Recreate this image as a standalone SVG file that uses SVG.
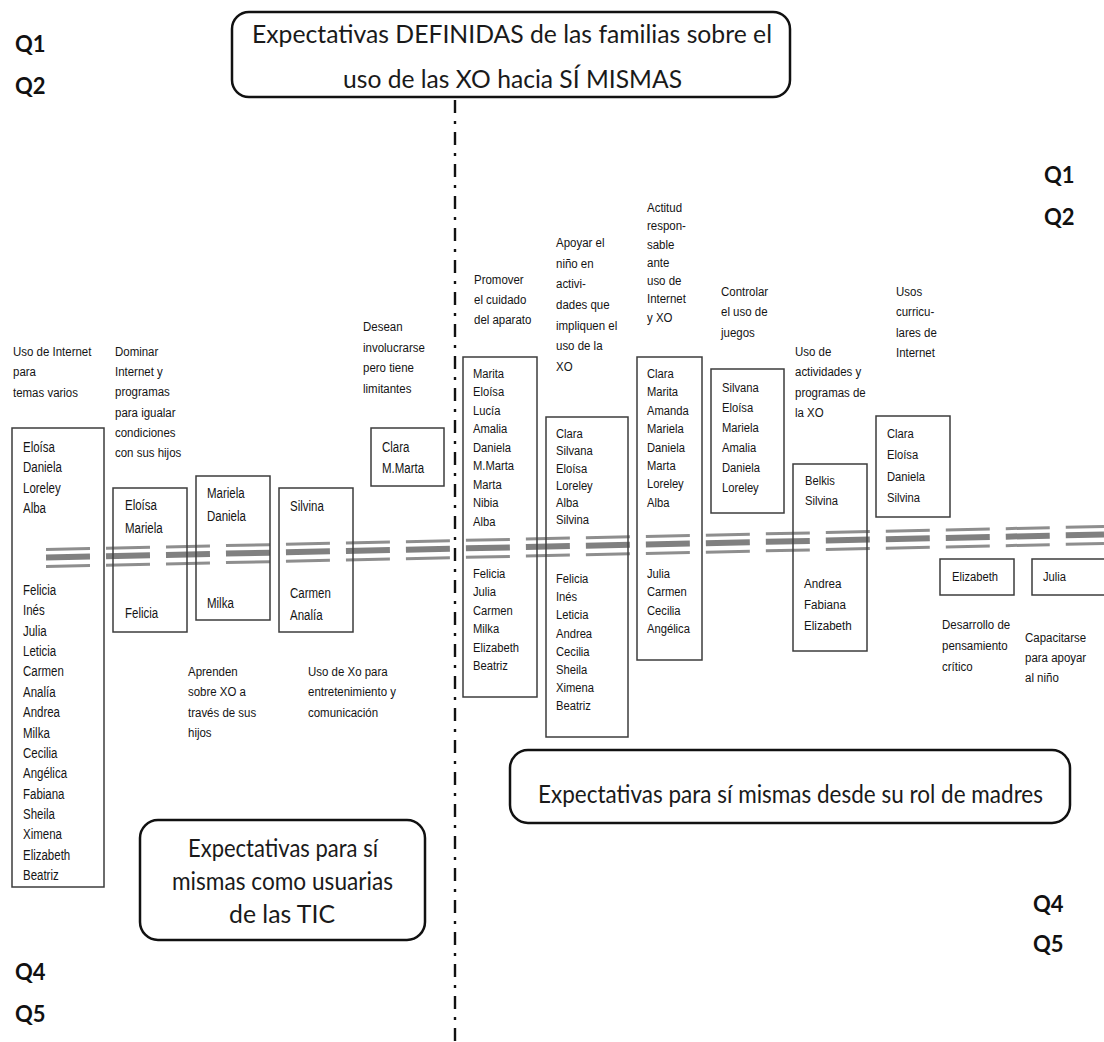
<svg xmlns="http://www.w3.org/2000/svg" width="1104" height="1042" viewBox="0 0 1104 1042">
  <style>
    .box { fill: none; stroke: #3c3c3c; stroke-width: 1.5; }
    .rbox { fill: #fff; stroke: #111; stroke-width: 2.5; }
    .nm { font-family: "Liberation Sans", Arial, sans-serif; font-size: 14px; fill: #141414; }
    .nmr { font-family: "Liberation Sans", Arial, sans-serif; font-size: 13.5px; fill: #141414; }
    .lbl { font-family: "Liberation Sans", Arial, sans-serif; font-size: 13.5px; fill: #141414; }
    .big { font-family: Lato, "Open Sans", sans-serif; font-size: 25px; fill: #1a1a1a; }
    .q { font-family: Lato, "Open Sans", sans-serif; font-size: 22px; font-weight: bold; fill: #111; }
    .dash { fill: none; stroke-dasharray: 44 16; }
  </style>

  <rect width="1104" height="1042" fill="#fff"/>

  <!-- quadrant markers -->
  <g id="quadrants">
    <text class="q" x="15" y="52">Q1</text>
    <text class="q" x="15" y="94">Q2</text>
    <text class="q" x="1044" y="183">Q1</text>
    <text class="q" x="1044" y="225">Q2</text>
    <text class="q" x="1033" y="912">Q4</text>
    <text class="q" x="1033" y="952">Q5</text>
    <text class="q" x="15" y="980">Q4</text>
    <text class="q" x="15" y="1022">Q5</text>
  </g>

  <!-- dividers -->
  <g id="connectors">
    <line x1="455" y1="100" x2="455" y2="1042" stroke="#111" stroke-width="2.4" stroke-dasharray="13 8 3 8"/>
    <g class="dash">
      <line x1="46" y1="549.5" x2="1104" y2="526.5" stroke="#8e8e8e" stroke-width="3"/>
      <line x1="46" y1="557.5" x2="1104" y2="534.5" stroke="#808080" stroke-width="6"/>
      <line x1="46" y1="566.5" x2="1104" y2="543.5" stroke="#8e8e8e" stroke-width="3"/>
    </g>
  </g>

  <!-- title -->
  <g id="title">
    <rect class="rbox" x="232" y="12" width="558" height="85" rx="17"/>
    <text class="big" x="252" y="43" textLength="520" lengthAdjust="spacingAndGlyphs">Expectativas DEFINIDAS de las familias sobre el</text>
    <text class="big" x="343" y="88" textLength="339" lengthAdjust="spacingAndGlyphs">uso de las XO hacia SÍ MISMAS</text>
  </g>

  <!-- left half: as ICT users -->
  <g id="box-internet-varios">
    <rect class="box" x="12" y="428" width="92" height="459"/>
    <text class="nm" transform="translate(23,0) scale(0.82,1)"><tspan x="0" y="452">Eloísa</tspan><tspan x="0" dy="20.3">Daniela</tspan><tspan x="0" dy="20.3">Loreley</tspan><tspan x="0" dy="20.3">Alba</tspan></text>
    <text class="nm" transform="translate(23,0) scale(0.82,1)"><tspan x="0" y="595">Felicia</tspan><tspan x="0" dy="20.36">Inés</tspan><tspan x="0" dy="20.36">Julia</tspan><tspan x="0" dy="20.36">Leticia</tspan><tspan x="0" dy="20.36">Carmen</tspan><tspan x="0" dy="20.36">Analía</tspan><tspan x="0" dy="20.36">Andrea</tspan><tspan x="0" dy="20.36">Milka</tspan><tspan x="0" dy="20.36">Cecilia</tspan><tspan x="0" dy="20.36">Angélica</tspan><tspan x="0" dy="20.36">Fabiana</tspan><tspan x="0" dy="20.36">Sheila</tspan><tspan x="0" dy="20.36">Ximena</tspan><tspan x="0" dy="20.36">Elizabeth</tspan><tspan x="0" dy="20.36">Beatriz</tspan></text>
    <text class="lbl" transform="translate(13,0) scale(0.85,1)"><tspan x="0" y="356">Uso de Internet</tspan><tspan x="0" dy="20.3">para</tspan><tspan x="0" dy="20.3">temas varios</tspan></text>
  </g>

  <g id="box-dominar">
    <rect class="box" x="113" y="488" width="74" height="144"/>
    <text class="nm" transform="translate(125,0) scale(0.82,1)"><tspan x="0" y="510">Eloísa</tspan><tspan x="0" dy="23">Mariela</tspan><tspan x="0" y="618">Felicia</tspan></text>
    <text class="lbl" transform="translate(115,0) scale(0.85,1)"><tspan x="0" y="356">Dominar</tspan><tspan x="0" dy="20.2">Internet y</tspan><tspan x="0" dy="20.2">programas</tspan><tspan x="0" dy="20.2">para igualar</tspan><tspan x="0" dy="20.2">condiciones</tspan><tspan x="0" dy="20.2">con sus hijos</tspan></text>
  </g>

  <g id="box-aprenden">
    <rect class="box" x="196" y="476" width="74" height="144"/>
    <text class="nm" transform="translate(207,0) scale(0.82,1)"><tspan x="0" y="498">Mariela</tspan><tspan x="0" dy="23">Daniela</tspan><tspan x="0" y="608">Milka</tspan></text>
    <text class="lbl" transform="translate(188,0) scale(0.85,1)"><tspan x="0" y="676">Aprenden</tspan><tspan x="0" dy="20.4">sobre XO a</tspan><tspan x="0" dy="20.4">través de sus</tspan><tspan x="0" dy="20.4">hijos</tspan></text>
  </g>

  <g id="box-entretenimiento">
    <rect class="box" x="279" y="488" width="74" height="144"/>
    <text class="nm" transform="translate(290,0) scale(0.82,1)"><tspan x="0" y="511">Silvina</tspan><tspan x="0" y="598">Carmen</tspan><tspan x="0" dy="22">Analía</tspan></text>
    <text class="lbl" transform="translate(308,0) scale(0.85,1)"><tspan x="0" y="676">Uso de Xo para</tspan><tspan x="0" dy="20.4">entretenimiento y</tspan><tspan x="0" dy="20.4">comunicación</tspan></text>
  </g>

  <g id="box-limitantes">
    <rect class="box" x="371" y="428" width="73" height="58"/>
    <text class="nm" transform="translate(382,0) scale(0.82,1)"><tspan x="0" y="452">Clara</tspan><tspan x="0" dy="21">M.Marta</tspan></text>
    <text class="lbl" transform="translate(363,0) scale(0.85,1)"><tspan x="0" y="331">Desean</tspan><tspan x="0" dy="20.7">involucrarse</tspan><tspan x="0" dy="20.7">pero tiene</tspan><tspan x="0" dy="20.7">limitantes</tspan></text>
  </g>

  <g id="group-usuarias">
    <rect class="rbox" x="140" y="820" width="285" height="120" rx="18"/>
    <text class="big" x="188" y="857" textLength="190" lengthAdjust="spacingAndGlyphs">Expectativas para sí</text>
    <text class="big" x="172" y="890" textLength="221" lengthAdjust="spacingAndGlyphs">mismas como usuarias</text>
    <text class="big" x="229" y="923" textLength="106" lengthAdjust="spacingAndGlyphs">de las TIC</text>
  </g>

  <!-- right half: as mothers -->
  <g id="box-cuidado">
    <rect class="box" x="463" y="357" width="74" height="340"/>
    <text class="nmr" transform="translate(473,0) scale(0.83,1)"><tspan x="0" y="378">Marita</tspan><tspan x="0" dy="18.5">Eloísa</tspan><tspan x="0" dy="18.5">Lucía</tspan><tspan x="0" dy="18.5">Amalia</tspan><tspan x="0" dy="18.5">Daniela</tspan><tspan x="0" dy="18.5">M.Marta</tspan><tspan x="0" dy="18.5">Marta</tspan><tspan x="0" dy="18.5">Nibia</tspan><tspan x="0" dy="18.5">Alba</tspan></text>
    <text class="nmr" transform="translate(473,0) scale(0.83,1)"><tspan x="0" y="578">Felicia</tspan><tspan x="0" dy="18.4">Julia</tspan><tspan x="0" dy="18.4">Carmen</tspan><tspan x="0" dy="18.4">Milka</tspan><tspan x="0" dy="18.4">Elizabeth</tspan><tspan x="0" dy="18.4">Beatriz</tspan></text>
    <text class="lbl" transform="translate(474,0) scale(0.85,1)"><tspan x="0" y="284">Promover</tspan><tspan x="0" dy="20">el cuidado</tspan><tspan x="0" dy="20">del aparato</tspan></text>
  </g>

  <g id="box-apoyar">
    <rect class="box" x="546" y="417" width="82" height="320"/>
    <text class="nmr" transform="translate(556,0) scale(0.83,1)"><tspan x="0" y="438">Clara</tspan><tspan x="0" dy="17.3">Silvana</tspan><tspan x="0" dy="17.3">Eloísa</tspan><tspan x="0" dy="17.3">Loreley</tspan><tspan x="0" dy="17.3">Alba</tspan><tspan x="0" dy="17.3">Silvina</tspan></text>
    <text class="nmr" transform="translate(556,0) scale(0.83,1)"><tspan x="0" y="583">Felicia</tspan><tspan x="0" dy="18.2">Inés</tspan><tspan x="0" dy="18.2">Leticia</tspan><tspan x="0" dy="18.2">Andrea</tspan><tspan x="0" dy="18.2">Cecilia</tspan><tspan x="0" dy="18.2">Sheila</tspan><tspan x="0" dy="18.2">Ximena</tspan><tspan x="0" dy="18.2">Beatriz</tspan></text>
    <text class="lbl" transform="translate(556,0) scale(0.85,1)"><tspan x="0" y="247">Apoyar el</tspan><tspan x="0" dy="20.7">niño en</tspan><tspan x="0" dy="20.7">activi-</tspan><tspan x="0" dy="20.7">dades que</tspan><tspan x="0" dy="20.7">impliquen el</tspan><tspan x="0" dy="20.7">uso de la</tspan><tspan x="0" dy="20.7">XO</tspan></text>
  </g>

  <g id="box-actitud">
    <rect class="box" x="637" y="357" width="65" height="303"/>
    <text class="nmr" transform="translate(647,0) scale(0.83,1)"><tspan x="0" y="378">Clara</tspan><tspan x="0" dy="18.4">Marita</tspan><tspan x="0" dy="18.4">Amanda</tspan><tspan x="0" dy="18.4">Mariela</tspan><tspan x="0" dy="18.4">Daniela</tspan><tspan x="0" dy="18.4">Marta</tspan><tspan x="0" dy="18.4">Loreley</tspan><tspan x="0" dy="18.4">Alba</tspan></text>
    <text class="nmr" transform="translate(647,0) scale(0.83,1)"><tspan x="0" y="578">Julia</tspan><tspan x="0" dy="18.3">Carmen</tspan><tspan x="0" dy="18.3">Cecilia</tspan><tspan x="0" dy="18.3">Angélica</tspan></text>
    <text class="lbl" transform="translate(647,0) scale(0.85,1)"><tspan x="0" y="212">Actitud</tspan><tspan x="0" dy="18.3">respon-</tspan><tspan x="0" dy="18.3">sable</tspan><tspan x="0" dy="18.3">ante</tspan><tspan x="0" dy="18.3">uso de</tspan><tspan x="0" dy="18.3">Internet</tspan><tspan x="0" dy="18.3">y XO</tspan></text>
  </g>

  <g id="box-juegos">
    <rect class="box" x="711" y="369" width="73" height="144"/>
    <text class="nmr" transform="translate(722,0) scale(0.83,1)"><tspan x="0" y="392">Silvana</tspan><tspan x="0" dy="20">Eloísa</tspan><tspan x="0" dy="20">Mariela</tspan><tspan x="0" dy="20">Amalia</tspan><tspan x="0" dy="20">Daniela</tspan><tspan x="0" dy="20">Loreley</tspan></text>
    <text class="lbl" transform="translate(721,0) scale(0.85,1)"><tspan x="0" y="296">Controlar</tspan><tspan x="0" dy="20.5">el uso de</tspan><tspan x="0" dy="20.5">juegos</tspan></text>
  </g>

  <g id="box-programas">
    <rect class="box" x="793" y="464" width="74" height="187"/>
    <text class="nmr" transform="translate(805,0) scale(0.83,1)"><tspan x="0" y="485">Belkis</tspan><tspan x="0" dy="20">Silvina</tspan></text>
    <text class="nmr" transform="translate(804,0) scale(0.86,1)"><tspan x="0" y="588">Andrea</tspan><tspan x="0" dy="21">Fabiana</tspan><tspan x="0" dy="21">Elizabeth</tspan></text>
    <text class="lbl" transform="translate(795,0) scale(0.85,1)"><tspan x="0" y="356">Uso de</tspan><tspan x="0" dy="20.5">actividades y</tspan><tspan x="0" dy="20.5">programas de</tspan><tspan x="0" dy="20.5">la XO</tspan></text>
  </g>

  <g id="box-curriculares">
    <rect class="box" x="876" y="416" width="74" height="101"/>
    <text class="nmr" transform="translate(887,0) scale(0.83,1)"><tspan x="0" y="438">Clara</tspan><tspan x="0" dy="21.3">Eloísa</tspan><tspan x="0" dy="21.3">Daniela</tspan><tspan x="0" dy="21.3">Silvina</tspan></text>
    <text class="lbl" transform="translate(896,0) scale(0.85,1)"><tspan x="0" y="296">Usos</tspan><tspan x="0" dy="20.4">curricu-</tspan><tspan x="0" dy="20.4">lares de</tspan><tspan x="0" dy="20.4">Internet</tspan></text>
  </g>

  <g id="box-pensamiento">
    <rect class="box" x="940" y="559" width="74" height="36"/>
    <text class="nmr" transform="translate(952,0) scale(0.83,1)"><tspan x="0" y="581">Elizabeth</tspan></text>
    <text class="lbl" transform="translate(942,0) scale(0.85,1)"><tspan x="0" y="629">Desarrollo de</tspan><tspan x="0" dy="21">pensamiento</tspan><tspan x="0" dy="21">crítico</tspan></text>
  </g>

  <g id="box-capacitarse">
    <rect class="box" x="1032" y="559" width="80" height="36"/>
    <text class="nmr" transform="translate(1043,0) scale(0.83,1)"><tspan x="0" y="581">Julia</tspan></text>
    <text class="lbl" transform="translate(1025,0) scale(0.85,1)"><tspan x="0" y="642">Capacitarse</tspan><tspan x="0" dy="20">para apoyar</tspan><tspan x="0" dy="20">al niño</tspan></text>
  </g>

  <g id="group-madres">
    <rect class="rbox" x="510" y="750" width="560" height="73" rx="18"/>
    <text class="big" x="538" y="803" textLength="505" lengthAdjust="spacingAndGlyphs">Expectativas para sí mismas desde su rol de madres</text>
  </g>
</svg>
